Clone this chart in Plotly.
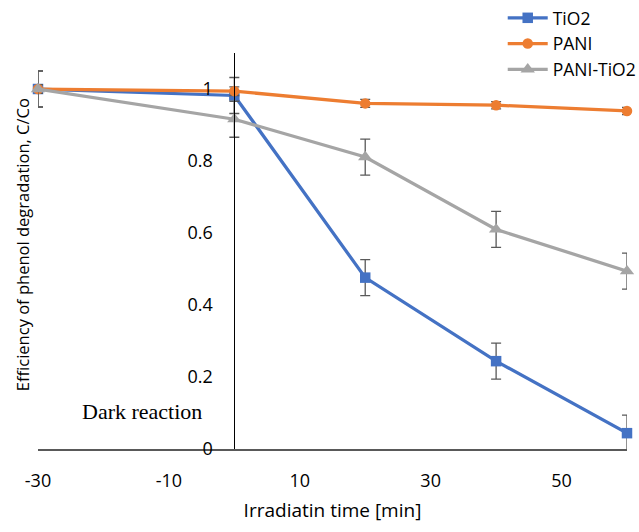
import plotly.graph_objects as go

# Sampling times (min); negative times are the dark adsorption period
time_min = [-30, 0, 20, 40, 60]

# Relative concentration C/Co for each catalyst
tio2 = [1.0, 0.982, 0.476, 0.244, 0.044]
pani = [1.0, 0.994, 0.960, 0.955, 0.939]
pani_tio2 = [1.0, 0.916, 0.811, 0.610, 0.494]

# Standard deviations
tio2_err = [0.05, 0.05, 0.05, 0.05, 0.05]
pani_err = [0.012, 0.012, 0.011, 0.01, 0.01]
pani_tio2_err = [0.05, 0.05, 0.05, 0.05, 0.05]

x_ticks = [-30, -10, 10, 30, 50]
y_ticks = [0, 0.2, 0.4, 0.6, 0.8, 1]
y_tick_text = ["0", "0.2", "0.4", "0.6", "0.8", "1"]

FONT = "Open Sans"
ERR_COLOR = "#595959"

series = [
    ("TiO2", tio2, tio2_err, "#4472C4", "square", 10.5),
    ("PANI", pani, pani_err, "#ED7D31", "circle", 10.5),
    ("PANI-TiO2", pani_tio2, pani_tio2_err, "#A5A5A5", "triangle-up", 12.5),
]

fig = go.Figure()
for name, vals, errs, color, symbol, msize in series:
    fig.add_trace(go.Scatter(
        x=time_min, y=vals, name=name, mode="lines+markers",
        line=dict(color=color, width=3.25),
        marker=dict(symbol=symbol, size=msize, color=color),
        error_y=dict(type="data", array=errs, visible=True,
                     color=ERR_COLOR, thickness=1.3, width=5),
        cliponaxis=False,
    ))

fig.add_annotation(
    x=-14.1, y=0.105, xref="x", yref="y", text="Dark reaction",
    showarrow=False, font=dict(family="Liberation Serif", size=22, color="#000000"),
)

fig.add_annotation(
    x=-0.027, y=0.515, xref="paper", yref="paper",
    xanchor="center", yanchor="middle",
    text="Efficiency of phenol degradation, C/Co", textangle=-90,
    showarrow=False, font=dict(family=FONT, size=16.5, color="#000000"),
)

fig.update_layout(
    width=639, height=532,
    margin=dict(l=38, r=12, t=53, b=83, autoexpand=False),
    paper_bgcolor="white", plot_bgcolor="white",
    font=dict(family=FONT, size=18, color="#000000"),
    showlegend=True,
    legend=dict(
        x=0.789, y=1.134, xanchor="left", yanchor="top",
        font=dict(family=FONT, size=17.5, color="#000000"),
        bgcolor="rgba(0,0,0,0)", itemwidth=40,
    ),
    xaxis=dict(
        range=[-30, 60], tickvals=x_ticks, ticktext=[str(v) for v in x_ticks],
        showgrid=False, zeroline=False, showline=True,
        linecolor="#595959", linewidth=1.5, ticks="",
        ticklabelstandoff=15,
        title=dict(text="Irradiatin time [min]", font=dict(family=FONT, size=19), standoff=12),
    ),
    yaxis=dict(
        range=[0, 1.1], tickvals=y_ticks, ticktext=y_tick_text,
        showgrid=False, zeroline=False, showline=True,
        linecolor="#000000", linewidth=1, ticks="",
        anchor="free", position=1 / 3, ticklabelstandoff=18,
    ),
)

fig.write_html("out.html")
